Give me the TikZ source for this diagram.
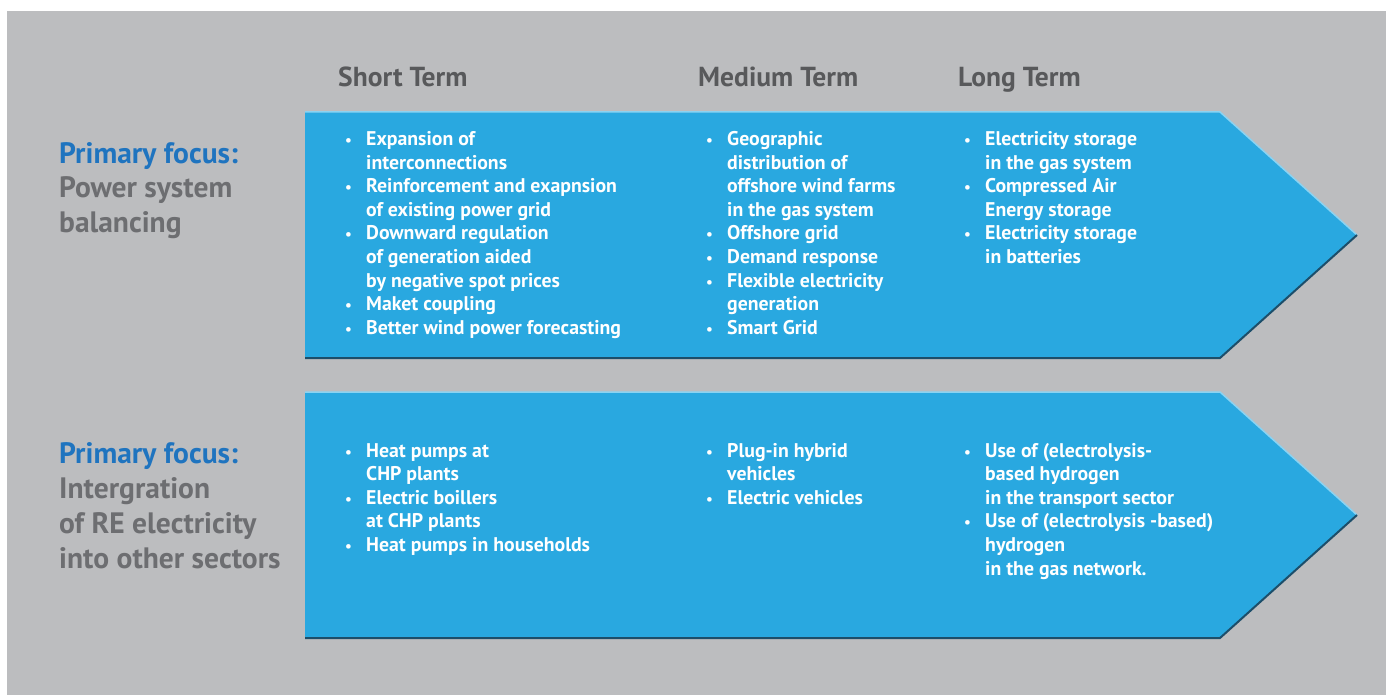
\documentclass[tikz,border=0pt]{standalone}
\usepackage{fontspec}
\setmainfont{PT Sans}
\usepackage{array}

\definecolor{bgGray}{HTML}{BCBDBF}
\definecolor{arrowBlue}{HTML}{29A8E0}
\definecolor{edgeLight}{HTML}{8AD3F2}
\definecolor{edgeDark}{HTML}{1C4E6A}
\definecolor{headGray}{HTML}{58595B}
\definecolor{focusBlue}{HTML}{1F74BF}
\definecolor{labelGray}{HTML}{6D6E71}

\tikzset{
  termhead/.style={anchor=base west, inner sep=0pt, text=headGray,
    font=\fontsize{27.5}{30}\selectfont\bfseries},
  focuslabel/.style={anchor=base west, inner sep=0pt, align=left, text=labelGray,
    font=\fontsize{29.5}{35}\selectfont\bfseries},
  itemlist/.style={anchor=base west, inner sep=0pt, text=white,
    font=\fontsize{19.8}{23.6}\selectfont\bfseries}
}

% bullet list as a two column table
\newcommand{\bulletlist}[1]{\begin{tabular}[t]{@{}p{22pt}@{}l@{}}#1\end{tabular}}
\newcommand{\bl}{\hspace*{1pt}{\fontsize{15}{15}\selectfont\textbullet}}

\begin{document}
\begin{tikzpicture}[x=1pt, y=-1pt]
  % page and background
  \useasboundingbox (0,0) rectangle (1386,695);
  \fill[white] (0,0) rectangle (1386,695);
  \fill[bgGray] (7,11) rectangle (1386,695);

  % upper arrow
  \fill[arrowBlue] (305,112) -- (1220,112) -- (1357,235) -- (1220,358) -- (305,358) -- cycle;
  \draw[edgeLight, line width=1.5pt] (305,112) -- (1220,112) -- (1357,235);
  \draw[edgeDark, line width=2pt] (305,358) -- (1220,358) -- (1357,235);

  % lower arrow
  \fill[arrowBlue] (305,392) -- (1220,392) -- (1357,515) -- (1220,638) -- (305,638) -- cycle;
  \draw[edgeLight, line width=1.5pt] (305,392) -- (1220,392) -- (1357,515);
  \draw[edgeDark, line width=2pt] (305,638) -- (1220,638) -- (1357,515);

  % column heads
  \node[termhead] (short) at (338,87) {Short Term};
  \node[termhead] (medium) at (698,87) {Medium Term};
  \node[termhead] (long) at (958,87) {Long Term};

  % row labels (base is the last line)
  \node[focuslabel] (focusA) at (59,233)
    {\textcolor{focusBlue}{Primary focus:}\\Power system\\balancing};
  \node[focuslabel] (focusB) at (59,568)
    {\textcolor{focusBlue}{Primary focus:}\\Intergration\\of RE electricity\\into other sectors};

  % upper arrow items
  \node[itemlist] (shortA) at (344,145.5) {\bulletlist{
    \bl & Expansion of\\
        & interconnections\\
    \bl & Reinforcement and exapnsion\\
        & of existing power grid\\
    \bl & Downward regulation\\
        & of generation aided\\
        & by negative spot prices\\
    \bl & Maket coupling\\
    \bl & Better wind power forecasting}};
  \node[itemlist] (mediumA) at (705,145.5) {\bulletlist{
    \bl & Geographic\\
        & distribution of\\
        & offshore wind farms\\
        & in the gas system\\
    \bl & Offshore grid\\
    \bl & Demand response\\
    \bl & Flexible electricity\\
        & generation\\
    \bl & Smart Grid}};
  \node[itemlist] (longA) at (963,145.5) {\bulletlist{
    \bl & Electricity storage\\
        & in the gas system\\
    \bl & Compressed Air\\
        & Energy storage\\
    \bl & Electricity storage\\
        & in batteries}};

  % lower arrow items
  \node[itemlist] (shortB) at (344,457) {\bulletlist{
    \bl & Heat pumps at\\
        & CHP plants\\
    \bl & Electric boillers\\
        & at CHP plants\\
    \bl & Heat pumps in households}};
  \node[itemlist] (mediumB) at (705,457) {\bulletlist{
    \bl & Plug-in hybrid\\
        & vehicles\\
    \bl & Electric vehicles}};
  \node[itemlist] (longB) at (963,457) {\bulletlist{
    \bl & Use of (electrolysis-\\
        & based hydrogen\\
        & in the transport sector\\
    \bl & Use of (electrolysis -based)\\
        & hydrogen\\
        & in the gas network.}};
\end{tikzpicture}
\end{document}
